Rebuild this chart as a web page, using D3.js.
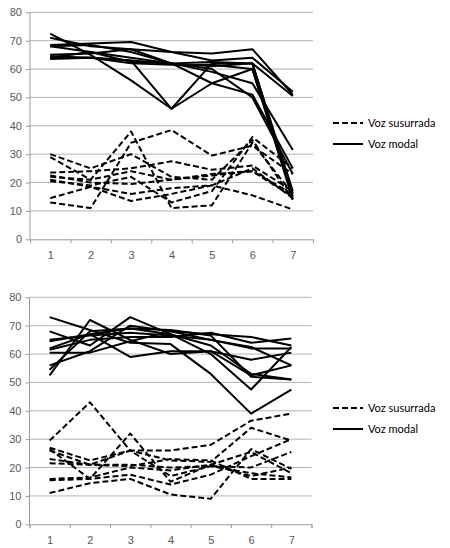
<!DOCTYPE html>
<html lang="en">
<head>
<meta charset="UTF-8">
<title>Voz susurrada / Voz modal</title>
<style>
    body { margin: 0; background: #fff; }
    svg { display: block; font-family: Lato, "Liberation Sans", sans-serif; }
    .grid line { stroke: #b3b3b3; stroke-width: 1; }
    .axis path, .axis line { stroke: #9c9c9c; }
    .axis text { fill: #595959; font-size: 11px; }
    .serie { fill: none; stroke: #000; stroke-width: 2; stroke-linejoin: round; }
    .dash { stroke-dasharray: 6 3; }
    .leg { font-size: 11px; fill: #000; }
</style>
</head>
<body>
<svg id="chart" width="450" height="548"></svg>
<script src="https://cdn.jsdelivr.net/npm/d3@7"></script>
<script>
    // categories and tick labels
    let categories = [1, 2, 3, 4, 5, 6, 7]
    let yTicks = [0, 10, 20, 30, 40, 50, 60, 70, 80]
    let legendLabels = ['Voz susurrada', 'Voz modal']

    // top chart: voz modal (solid)
    let topModal = [
        [72.5, 65, 56, 46, 62, 62, 16],
        [64, 64, 63, 46, 55, 60, 14],
        [71, 68, 67, 66, 65.5, 67, 51],
        [68.5, 69, 69.5, 66, 63, 64, 52],
        [68, 68.5, 66, 62, 61, 62, 50.5],
        [65, 65.5, 67, 62, 59, 55, 31.5],
        [64, 66, 64, 62, 55, 51, 25],
        [64.5, 64, 63, 62, 60, 50, 23],
        [68, 66, 62.5, 62, 62.5, 62, 17],
        [63.5, 64, 62, 61.5, 61.5, 60, 15]
    ]
    // top chart: voz susurrada (dashed)
    let topSusurrada = [
        [29, 21, 38, 11, 12, 34, 16],
        [13, 11, 34, 38.5, 29.5, 33, 23],
        [30, 25, 30, 22, 21, 35, 14],
        [23.5, 24, 25, 27.5, 24.5, 26, 17],
        [22.5, 20, 19.5, 21, 22.5, 24, 16],
        [21, 18.5, 16, 18, 19, 25, 14.5],
        [14.5, 18.5, 13.5, 16, 19, 15.5, 10.5],
        [20.5, 19, 22, 13, 17, 36, 25],
        [22, 21, 24, 21, 23, 24, 15]
    ]
    // bottom chart: voz modal (solid)
    let bottomModal = [
        [73, 68.5, 64, 63.5, 53, 39, 47.5],
        [68, 63, 73, 67, 60, 47.5, 62.5],
        [52.5, 72, 65, 60, 61, 58, 60.5],
        [64.5, 67, 59, 61, 61, 52.5, 56],
        [54.5, 68, 69, 68.5, 66.5, 52, 51],
        [56, 61, 70, 68, 67, 66, 63],
        [61.5, 65, 66, 66, 67.5, 64, 65.5],
        [60.5, 60.5, 64.5, 68, 65, 62, 62],
        [65, 66.5, 67.5, 66.5, 65, 62.5, 56],
        [62, 67, 69, 67, 63, 53, 51]
    ]
    // bottom chart: voz susurrada (dashed)
    let bottomSusurrada = [
        [29.5, 43, 26, 26, 28, 36.5, 39],
        [27, 22.5, 26, 22.5, 22, 34, 29.5],
        [26.5, 16, 32, 15, 21, 17, 20],
        [23, 21, 20.5, 23, 22.5, 16, 16],
        [21.5, 21, 21, 20, 20.5, 20, 25.5],
        [16, 16.5, 20, 19, 21, 25.5, 18],
        [15.5, 16, 17.5, 14, 17.5, 24, 30],
        [11, 14.5, 16, 10.5, 9, 26.5, 19.5],
        [26, 21, 26, 17, 20.5, 18, 16.5]
    ]

    let svg = d3.select('#chart')

    function panel(box, modal, susurrada, legY) {
        let x = d3.scaleLinear().domain([0.5, 7.5]).range([box.left, box.right])
        let y = d3.scaleLinear().domain([0, 80]).range([box.bottom, box.top])
        let g = svg.append('g')

        g.append('g').attr('class', 'grid')
            .selectAll('line')
            .data(yTicks.slice(1))
            .enter().append('line')
            .attr('x1', box.left).attr('x2', box.right)
            .attr('y1', d => y(d)).attr('y2', d => y(d))

        g.append('g').attr('class', 'axis')
            .attr('transform', `translate(${box.left},0)`)
            .call(d3.axisLeft(y).tickValues(yTicks).tickSize(4).tickPadding(4))
            .call(a => a.select('.domain').attr('d', `M0,${box.top}V${box.bottom}`))

        let xb = g.append('g').attr('class', 'axis')
            .attr('transform', `translate(0,${box.bottom})`)
        xb.call(d3.axisBottom(x).tickValues(d3.range(0.5, 8, 1)).tickSize(4).tickFormat(''))
        xb.append('g')
            .call(d3.axisBottom(x).tickValues(categories).tickSize(0).tickPadding(12).tickFormat(d3.format('d')))
            .call(a => a.select('.domain').remove())

        let line = d3.line()
            .x((d, i) => x(categories[i]))
            .y(d => y(d))

        g.selectAll('.mod')
            .data(modal)
            .enter().append('path')
            .attr('class', 'serie')
            .attr('d', line)

        g.selectAll('.sus')
            .data(susurrada)
            .enter().append('path')
            .attr('class', 'serie dash')
            .attr('d', line)

        let lg = g.append('g').attr('transform', `translate(333,${legY})`)
        legendLabels.forEach((t, i) => {
            lg.append('line')
                .attr('class', i === 0 ? 'serie dash' : 'serie')
                .attr('x1', 0).attr('x2', 30)
                .attr('y1', i * 21).attr('y2', i * 21)
            lg.append('text')
                .attr('class', 'leg')
                .attr('x', 35).attr('y', i * 21)
                .attr('dy', '0.35em')
                .text(t)
        })
    }

    panel({left: 30, right: 313, top: 12.3, bottom: 239.3}, topModal, topSusurrada, 123)
    panel({left: 29.5, right: 311.5, top: 297.3, bottom: 524.3}, bottomModal, bottomSusurrada, 408)
</script>
</body>
</html>
